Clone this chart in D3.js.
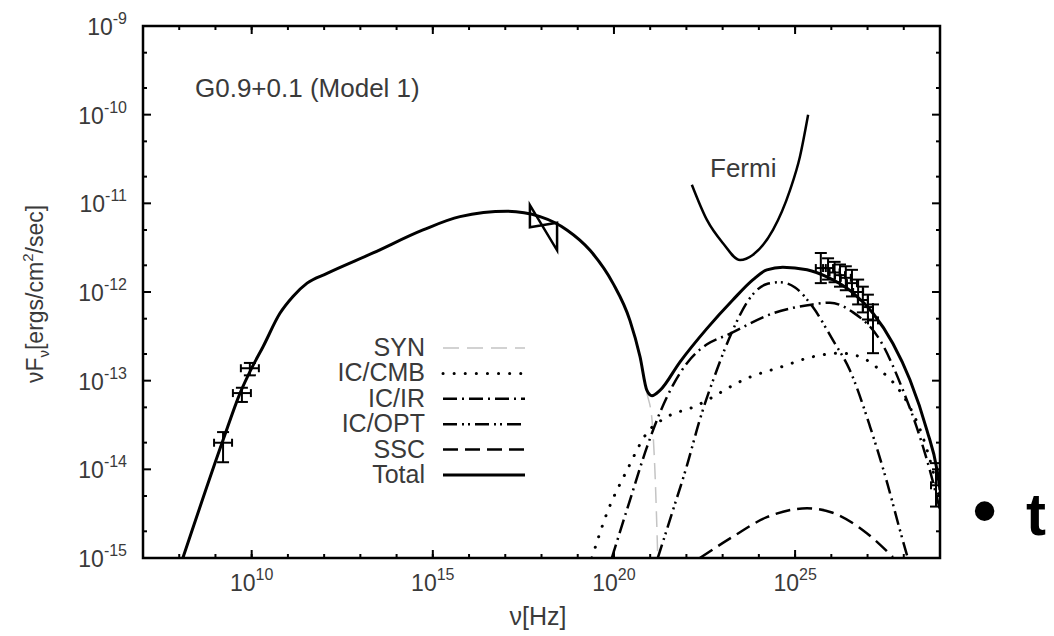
<!DOCTYPE html>
<html>
<head>
<meta charset="utf-8">
<script src="https://cdn.jsdelivr.net/npm/d3@7"></script>
<style>
  body { margin: 0; background: #fff; }
  text { font-family: "Liberation Sans", Arial, sans-serif; fill: #3a3a3a; }
</style>
</head>
<body>
<svg id="chart" width="1054" height="636"></svg>
<script>
let svg = d3.select("#chart");

//! DATA (log10 nu [Hz], log10 nuF_nu [ergs/cm2/sec])
let totalNu = [8.10, 9.21, 9.68, 10.01, 10.31, 10.78, 11.14, 11.53, 12.08, 13.35, 14.73, 15.75, 17.05, 17.96, 18.70, 19.34, 19.97, 20.44, 20.72, 20.91, 21.05, 21.27, 21.82, 22.57, 23.28, 23.84, 24.22, 24.66, 25.33, 25.88, 26.60, 27.15, 27.70, 28.17, 28.64, 28.92, 29.0];
let totalF = [-15.00, -13.67, -13.14, -12.85, -12.62, -12.24, -12.05, -11.90, -11.79, -11.56, -11.30, -11.15, -11.09, -11.15, -11.30, -11.53, -11.90, -12.32, -12.73, -13.11, -13.17, -13.11, -12.79, -12.41, -12.09, -11.86, -11.75, -11.72, -11.75, -11.83, -12.01, -12.24, -12.58, -12.99, -13.56, -14.01, -14.23];

let synNu = [8.10, 9.21, 9.68, 10.01, 10.31, 10.78, 11.14, 11.53, 12.08, 13.35, 14.73, 15.75, 17.05, 17.96, 18.70, 19.34, 19.97, 20.44, 20.72, 20.91, 21.05, 21.13, 21.21];
let synF = [-15.00, -13.67, -13.14, -12.85, -12.62, -12.24, -12.05, -11.90, -11.79, -11.56, -11.30, -11.15, -11.09, -11.15, -11.30, -11.53, -11.90, -12.32, -12.74, -13.14, -13.44, -14.01, -15.00];

let cmbNu = [19.39, 19.81, 20.36, 20.91, 21.46, 22.18, 23.75, 24.58, 25.49, 26.24, 26.79, 27.34, 27.81, 28.17, 28.53, 28.80, 29.0];
let cmbF = [-15.00, -14.49, -14.01, -13.59, -13.41, -13.30, -12.96, -12.85, -12.73, -12.69, -12.73, -12.88, -13.07, -13.30, -13.64, -14.01, -14.35];

let irNu = [19.94, 20.44, 20.91, 21.27, 21.63, 22.02, 22.37, 22.57, 23.15, 24.39, 25.49, 25.96, 26.60, 27.34, 27.98, 28.45, 28.72, 29.0];
let irF = [-15.00, -14.35, -13.75, -13.36, -13.05, -12.80, -12.65, -12.59, -12.48, -12.24, -12.14, -12.12, -12.23, -12.54, -13.11, -13.64, -14.01, -14.46];

let optNu = [21.21, 21.63, 22.02, 22.37, 22.84, 23.28, 23.75, 24.22, 24.58, 25.00, 25.49, 26.04, 26.51, 27.07, 27.54, 27.89, 28.11];
let optF = [-15.00, -14.46, -13.95, -13.44, -12.88, -12.43, -12.07, -11.91, -11.89, -11.95, -12.17, -12.54, -12.88, -13.52, -14.15, -14.68, -15.00];

let sscNu = [22.37, 23.28, 24.22, 25.33, 26.04, 26.98, 27.70];
let sscF = [-15.00, -14.76, -14.54, -14.44, -14.49, -14.72, -14.99];

let fermiNu = [22.15, 22.57, 23.01, 23.48, 23.84, 24.39, 24.86, 25.13, 25.36];
let fermiF = [-10.79, -11.19, -11.45, -11.64, -11.58, -11.30, -10.85, -10.48, -10.00];

// radio points
let radioNu = [9.21, 9.73, 9.95];
let radioF = [-13.70, -13.14, -12.86];
let radioLo = [-13.92, -13.24, -12.94];
let radioHi = [-13.58, -13.08, -12.80];

// gamma-ray points
let gammaNu = [25.71, 25.91, 26.09, 26.24, 26.40, 26.57, 26.74, 26.87, 27.01, 27.15, 28.89];
let gammaF = [-11.73, -11.73, -11.78, -11.81, -11.84, -11.90, -12.00, -12.09, -12.17, -12.32, -14.18];
let gammaLo = [-11.90, -11.86, -11.89, -11.94, -11.98, -12.05, -12.14, -12.23, -12.31, -12.69, -14.42];
let gammaHi = [-11.56, -11.62, -11.66, -11.69, -11.71, -11.75, -11.86, -11.94, -12.03, -12.14, -13.93];

// X-ray bowtie
let xrayNu = [17.68, 18.43, 18.43, 17.68];
let xrayF = [-11.02, -11.53, -11.22, -11.27];

let xDecades = d3.range(7, 30);
let xLabels = [10, 15, 20, 25];
let yDecades = d3.range(-15, -8);

//? Scales
let pLeft = 143, pRight = 940, pTop = 26, pBottom = 558;
let x = d3.scaleLog().domain([1e7, 1e29]).range([pLeft, pRight]);
let y = d3.scaleLog().domain([1e-15, 1e-9]).range([pBottom, pTop]);

let line = d3.line()
    .x(d => x(Math.pow(10, d[0])))
    .y(d => y(Math.pow(10, d[1])))
    .curve(d3.curveMonotoneX);

svg.append("clipPath").attr("id", "plotClip")
    .append("rect")
    .attr("x", pLeft).attr("y", pTop)
    .attr("width", pRight - pLeft).attr("height", pBottom - pTop);

//? Ticks
let yMinor = [];
yDecades.forEach(e => { if (e < -9) { yMinor.push(2 * Math.pow(10, e)); yMinor.push(5 * Math.pow(10, e)); } });
let yMajor = yDecades.map(e => Math.pow(10, e));
let xAll = xDecades.map(e => Math.pow(10, e));
let xMajor = xLabels.map(e => Math.pow(10, e));

let ticks = svg.append("g").attr("stroke", "#000").attr("stroke-width", 2);
function tickLines(values, scale, len, orient) {
    values.forEach(v => {
        let p = scale(v);
        if (orient === "x") {
            ticks.append("line").attr("x1", p).attr("x2", p).attr("y1", pBottom).attr("y2", pBottom - len);
            ticks.append("line").attr("x1", p).attr("x2", p).attr("y1", pTop).attr("y2", pTop + len);
        } else {
            ticks.append("line").attr("y1", p).attr("y2", p).attr("x1", pLeft).attr("x2", pLeft + len);
            ticks.append("line").attr("y1", p).attr("y2", p).attr("x1", pRight).attr("x2", pRight - len);
        }
    });
}
tickLines(xAll, x, 4, "x");
tickLines(xMajor, x, 8, "x");
tickLines(yMinor, y, 4, "y");
tickLines(yMajor, y, 8, "y");

//? Tick labels
let xl = svg.append("g").selectAll("text").data(xLabels).enter().append("text")
    .attr("x", d => x(Math.pow(10, d)))
    .attr("y", 591)
    .attr("text-anchor", "middle")
    .attr("font-size", 23);
xl.append("tspan").text("10");
xl.append("tspan").attr("dy", -11).attr("font-size", 16).text(d => d);

let yl = svg.append("g").selectAll("text").data(yDecades).enter().append("text")
    .attr("x", 127)
    .attr("y", d => y(Math.pow(10, d)) + 9)
    .attr("text-anchor", "end")
    .attr("font-size", 23);
yl.append("tspan").text("10");
yl.append("tspan").attr("dy", -11).attr("font-size", 16).text(d => d);

//? Axis titles
svg.append("text")
    .attr("x", 538).attr("y", 625)
    .attr("text-anchor", "middle")
    .attr("font-size", 25)
    .text("ν[Hz]");

let ylab = svg.append("text")
    .attr("transform", "translate(43,294) rotate(-90)")
    .attr("text-anchor", "middle")
    .attr("font-size", 23);
ylab.append("tspan").text("νF");
ylab.append("tspan").attr("dy", 6).attr("font-size", 15).text("ν");
ylab.append("tspan").attr("dy", -6).text("[ergs/cm");
ylab.append("tspan").attr("dy", -10).attr("font-size", 15).text("2");
ylab.append("tspan").attr("dy", 10).text("/sec]");

//? Curves
let series = [
    { name: "SYN", nu: synNu, f: synF, color: "#c4c4c4", width: 1.5, dash: "16,8", cap: "butt" },
    { name: "IC/CMB", nu: cmbNu, f: cmbF, color: "#000", width: 3, dash: "0.1,11", cap: "round" },
    { name: "IC/IR", nu: irNu, f: irF, color: "#000", width: 2.5, dash: "14,5,2,5", cap: "butt" },
    { name: "IC/OPT", nu: optNu, f: optF, color: "#000", width: 2.5, dash: "14,5,2,4,2,5", cap: "butt" },
    { name: "SSC", nu: sscNu, f: sscF, color: "#000", width: 2.5, dash: "15,7", cap: "butt" },
    { name: "Total", nu: totalNu, f: totalF, color: "#000", width: 3, dash: null, cap: "butt" }
];

let curves = svg.append("g").attr("clip-path", "url(#plotClip)");
curves.selectAll("path")
    .data(series)
    .enter()
    .append("path")
    .attr("d", d => line(d3.zip(d.nu, d.f)))
    .attr("fill", "none")
    .attr("stroke", d => d.color)
    .attr("stroke-width", d => d.width)
    .attr("stroke-dasharray", d => d.dash)
    .attr("stroke-linecap", d => d.cap);

// Fermi sensitivity
curves.append("path")
    .attr("d", line(d3.zip(fermiNu, fermiF)))
    .attr("fill", "none")
    .attr("stroke", "#000")
    .attr("stroke-width", 2.5);

// X-ray bowtie
curves.append("path")
    .attr("d", d3.line().x(d => x(Math.pow(10, d[0]))).y(d => y(Math.pow(10, d[1])))(d3.zip(xrayNu, xrayF)) + "Z")
    .attr("fill", "none")
    .attr("stroke", "#000")
    .attr("stroke-width", 2.5);

//? Error bars
function errorBars(nu, f, lo, hi, cap, hw) {
    let g = curves.append("g").attr("stroke", "#000").attr("stroke-width", 2);
    nu.forEach((n, i) => {
        let px = x(Math.pow(10, n));
        let py = y(Math.pow(10, f[i]));
        let y0 = y(Math.pow(10, lo[i]));
        let y1 = y(Math.pow(10, hi[i]));
        g.append("line").attr("x1", px).attr("x2", px).attr("y1", y0).attr("y2", y1);
        g.append("line").attr("x1", px - cap).attr("x2", px + cap).attr("y1", y0).attr("y2", y0);
        g.append("line").attr("x1", px - cap).attr("x2", px + cap).attr("y1", y1).attr("y2", y1);
        g.append("line").attr("x1", px - hw).attr("x2", px + hw).attr("y1", py).attr("y2", py);
        g.append("line").attr("x1", px - hw).attr("x2", px - hw).attr("y1", py - 4).attr("y2", py + 4);
        g.append("line").attr("x1", px + hw).attr("x2", px + hw).attr("y1", py - 4).attr("y2", py + 4);
    });
}
errorBars(radioNu, radioF, radioLo, radioHi, 6, 9);
errorBars(gammaNu, gammaF, gammaLo, gammaHi, 6, 5);

//? Frame
svg.append("rect")
    .attr("x", pLeft).attr("y", pTop)
    .attr("width", pRight - pLeft).attr("height", pBottom - pTop)
    .attr("fill", "none")
    .attr("stroke", "#000")
    .attr("stroke-width", 2.5);

//? Labels
svg.append("text").attr("x", 195).attr("y", 97).attr("font-size", 26).text("G0.9+0.1 (Model 1)");
svg.append("text").attr("x", 710).attr("y", 177).attr("font-size", 26).text("Fermi");

//? Legend
let legend = svg.append("g").selectAll("g")
    .data(series)
    .enter()
    .append("g")
    .attr("transform", (d, i) => "translate(0," + (348 + i * 25.4) + ")");
legend.append("text")
    .attr("x", 425).attr("y", 8)
    .attr("text-anchor", "end")
    .attr("font-size", 25)
    .text(d => d.name);
legend.append("line")
    .attr("x1", 443).attr("x2", 525)
    .attr("stroke", d => d.color)
    .attr("stroke-width", d => d.width)
    .attr("stroke-dasharray", d => d.dash)
    .attr("stroke-linecap", d => d.cap);

// slide fragment at right
svg.append("text").attr("x", 972).attr("y", 535)
    .attr("font-family", "DejaVu Sans").attr("font-size", 72)
    .style("fill", "#000")
    .text("•");
svg.append("text").attr("x", 1026).attr("y", 535)
    .attr("font-family", "DejaVu Sans").attr("font-weight", "bold").attr("font-size", 60)
    .style("fill", "#000")
    .text("t");
</script>
</body>
</html>
